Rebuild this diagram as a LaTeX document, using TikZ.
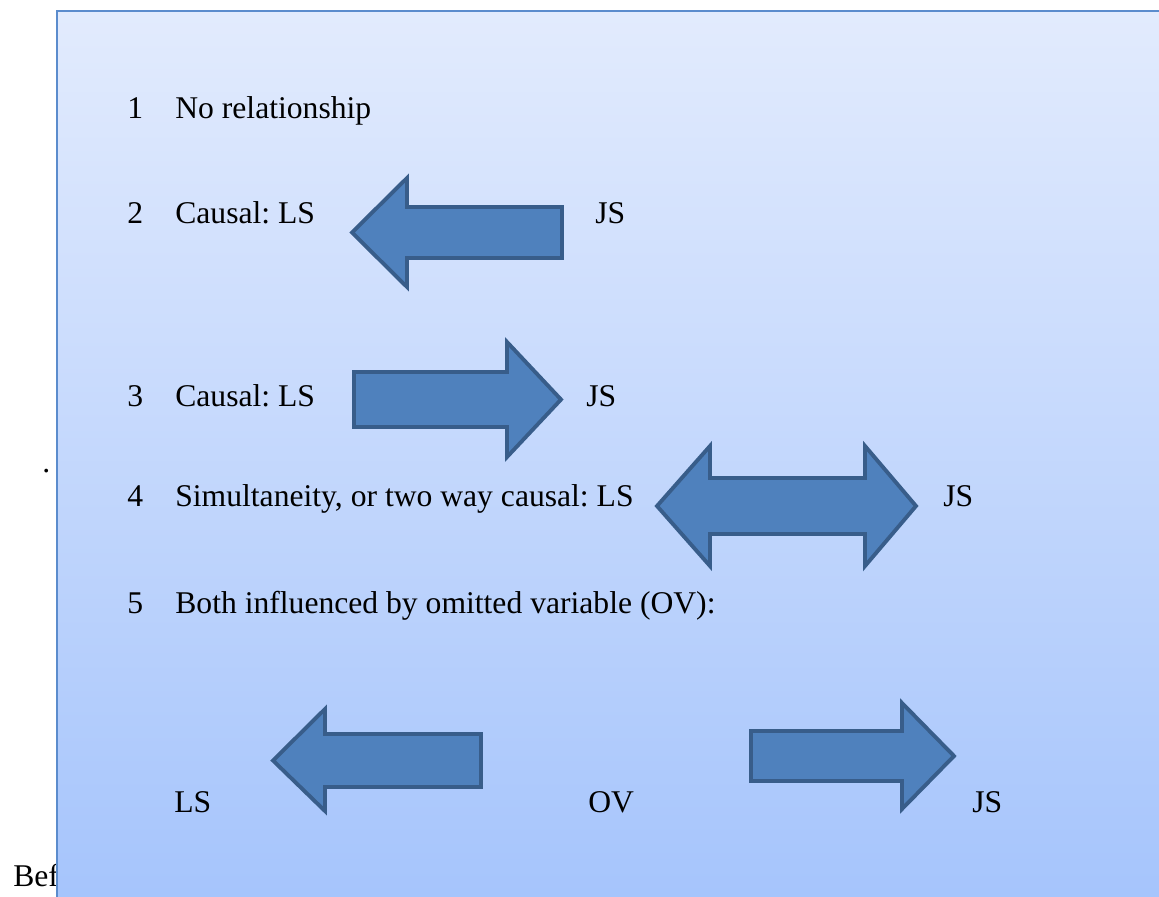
\documentclass[tikz,border=0pt]{standalone}
\usepackage{fontspec}
\setmainfont{Liberation Serif}
\frenchspacing
\definecolor{boxtop}{RGB}{226,235,253}
\definecolor{boxbottom}{RGB}{165,196,252}
\definecolor{boxline}{RGB}{91,140,205}
\definecolor{arrowfill}{RGB}{79,129,189}
\definecolor{arrowline}{RGB}{56,93,138}
\tikzset{
  lbl/.style={anchor=base west,inner sep=0pt,font=\fontsize{18}{22}\selectfont},
  blockarrow/.style={fill=arrowfill,draw=arrowline,line width=2.2pt,line join=miter}
}
\begin{document}
\begin{tikzpicture}[x=0.02cm,y=-0.02cm]
    \useasboundingbox (0,0) rectangle (1159,896);
    \clip (0,0) rectangle (1159,896);

    \node[lbl] (bef) at (13,886) {Bef};
    \node[lbl] (dot) at (42,472) {.};

    % the text box
    \shade[top color=boxtop,bottom color=boxbottom] (57,11) rectangle (1175,910);
    \draw[boxline,line width=1.4pt] (57,910) -- (57,11) -- (1175,11);

    \node[lbl] (n1) at (127,118) {1};
    \node[lbl] (t1) at (175,118) {No relationship};

    \node[lbl] (n2) at (127,223) {2};
    \node[lbl] (t2) at (175,223) {Causal: LS};
    \node[lbl] (js2) at (595,223) {JS};
    \draw[blockarrow] (562,207) -- (407,207) -- (407,178) -- (352,232.5)
        -- (407,287) -- (407,258) -- (562,258) -- cycle;

    \node[lbl] (n3) at (127,406) {3};
    \node[lbl] (t3) at (175,406) {Causal: LS};
    \node[lbl] (js3) at (586,406) {JS};
    \draw[blockarrow] (354,372) -- (507,372) -- (507,342) -- (561,399.5)
        -- (507,457) -- (507,427) -- (354,427) -- cycle;

    \node[lbl] (n4) at (127,506) {4};
    \node[lbl] (t4) at (175,506) {Simultaneity, or two way causal: LS};
    \node[lbl] (js4) at (943,506) {JS};
    \draw[blockarrow] (657,506) -- (710,446) -- (710,478) -- (865,478) -- (865,446)
        -- (916,506) -- (865,566) -- (865,534) -- (710,534) -- (710,566) -- cycle;

    \node[lbl] (n5) at (127,613) {5};
    \node[lbl] (t5) at (175,613) {Both influenced by omitted variable (OV):};

    \node[lbl] (ls) at (174,812) {LS};
    \node[lbl] (ov) at (588,812) {OV};
    \node[lbl] (js) at (972,812) {JS};
    \draw[blockarrow] (481,734) -- (325,734) -- (325,709) -- (273,760.5)
        -- (325,811) -- (325,787) -- (481,787) -- cycle;
    \draw[blockarrow] (751,731) -- (902,731) -- (902,703) -- (954,756)
        -- (902,809) -- (902,781) -- (751,781) -- cycle;
\end{tikzpicture}
\end{document}
